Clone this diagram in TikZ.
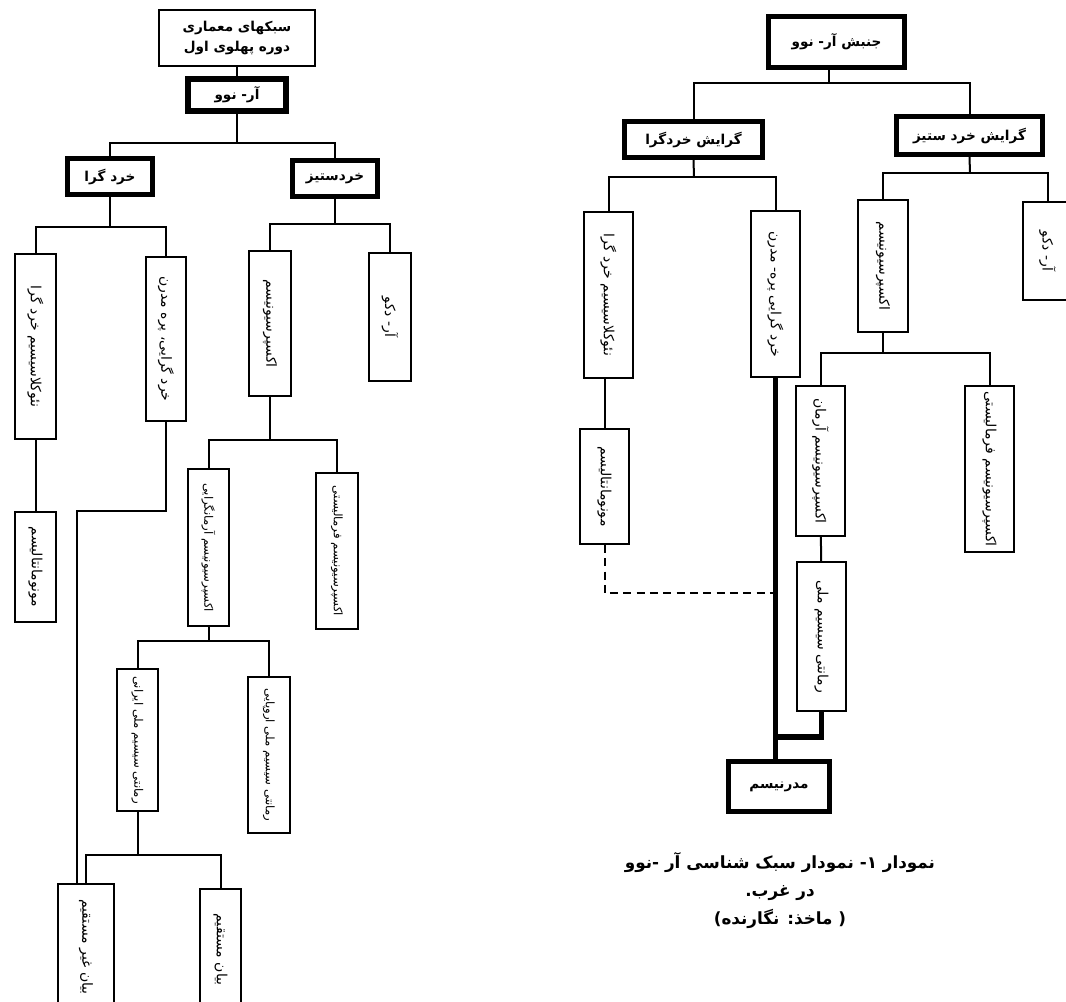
\documentclass[tikz,border=0pt]{standalone}
\usepackage{fontspec}
\usepackage{graphicx}
\TeXXeTstate=1
\newfontfamily\farsi[Script=Arabic]{DejaVu Sans}
\newcommand{\fatext}[1]{\beginR #1\endR}
\newcommand{\vfa}[1]{\rotatebox[origin=c]{-90}{\beginR #1\endR}}

\tikzset{
    thinbox/.style={draw, line width=1.5pt, inner sep=0pt, align=center,
        font=\farsi\bfseries\fontsize{10.2}{15}\selectfont},
    thickbox/.style={thinbox, line width=3.8pt},
    vbox/.style={draw, line width=1.5pt, inner sep=0pt,
        font=\farsi\fontsize{10.5}{12}\selectfont},
    vsmall/.style={vbox, font=\farsi\fontsize{8.8}{11}\selectfont},
    wh/.style 2 args={minimum width=#1*0.75pt, minimum height=#2*0.75pt},
    link/.style={line width=1.5pt},
    boldlink/.style={line width=4pt}
}

\begin{document}
\begin{tikzpicture}[x=0.75pt, y=-0.75pt]
    \useasboundingbox (0,0) rectangle (1066,1001);

    % Left tree
    \node[thinbox, wh={156}{56}] (top) at (237,38)
        {\fatext{سبکهای معماری}\\\fatext{دوره پهلوی اول}};
    \node[thickbox, wh={98}{32}] (arnoo) at (237,95) {\fatext{آر- نوو}};
    \node[thickbox, wh={85}{36}] (khg) at (110,176.5) {\fatext{خرد گرا}};
    \node[thickbox, wh={85}{36}] (khs) at (335,178.5) {\fatext{خردستیز}};

    \node[vbox, wh={41}{185}] (neo) at (35.5,346.5) {\vfa{نئوکلاسیسیم خرد گرا}};
    \node[vbox, wh={40}{164}] (khp) at (166,339) {\vfa{خرد گرایی، پره مدرن}};
    \node[vbox, wh={42}{145}] (exp) at (270,323.5) {\vfa{اکسپرسیونیسم}};
    \node[vbox, wh={42}{128}] (deco) at (390,317) {\vfa{آر- دکو}};

    \node[vbox, wh={41}{110}] (mono) at (35.5,567) {\vfa{مونومانتالیسم}};
    \node[vsmall, wh={41}{157}] (expa) at (208.5,547.5) {\vfa{اکسپرسیونیسم آرمانگرایی}};
    \node[vsmall, wh={42}{156}] (expf) at (337,551) {\vfa{اکسپرسیونیسم فرمالیستی}};

    \node[vsmall, wh={41}{142}] (roi) at (137.5,740) {\vfa{رمانتی سیسیم ملی ایرانی}};
    \node[vsmall, wh={42}{156}] (roe) at (269,755) {\vfa{رمانتی سیسیم ملی اروپایی}};

    \node[vbox, wh={56}{126}] (bgm) at (86,947) {\vfa{بیان غیر مستقیم}};
    \node[vbox, wh={41}{121}] (bm) at (220.5,949.5) {\vfa{بیان مستقیم}};

    \coordinate (b1) at (237,143);
    \coordinate (b2) at (110,227);
    \coordinate (b3) at (331,224);
    \coordinate (b4) at (270,440);
    \coordinate (b5) at (208.5,641);
    \coordinate (b6) at (137.5,855);
    \coordinate (kink) at (77,511);

    \draw[link] (top) -- (arnoo);
    \draw[link] (arnoo.south) -- (b1);
    \draw[link] (khg.north) |- (b1) -| (khs.north);
    \draw[link] (khg.south) -- (b2);
    \draw[link] (neo.north) |- (b2) -| (khp.north);
    \draw[link] (khs.south) -- (khs.south |- b3);
    \draw[link] (exp.north) |- (b3) -| (deco.north);
    \draw[link] (neo) -- (mono);
    \draw[link] (exp.south) -- (b4);
    \draw[link] (expa.north) |- (b4) -| (expf.north);
    \draw[link] (expa.south) -- (b5);
    \draw[link] (roi.north) |- (b5) -| (roe.north);
    \draw[link] (roi.south) -- (b6);
    \draw[link] (bgm.north) |- (b6) -| (bm.north);
    \draw[link] (khp.south) |- (kink) -- (kink |- bgm.north);

    % Right tree
    \node[thickbox, wh={136}{51}] (jon) at (836.5,42) {\fatext{جنبش آر- نوو}};
    \node[thickbox, wh={138}{36}] (gkg) at (693.5,139.5) {\fatext{گرایش خردگرا}};
    \node[thickbox, wh={146}{38}] (gks) at (969.5,135.5) {\fatext{گرایش خرد ستیز}};

    \node[vbox, wh={49}{166}] (rneo) at (608.5,295) {\vfa{نئوکلاسیسیم خرد گرا}};
    \node[vbox, wh={49}{166}] (rkhp) at (775.5,294) {\vfa{خرد گرایی پره- مدرن}};
    \node[vbox, wh={50}{132}] (rexp) at (883,266) {\vfa{اکسپرسیونیسم}};
    \node[vbox, wh={49}{98}] (rdeco) at (1047.5,251) {\vfa{آر- دکو}};

    \node[vbox, wh={49}{115}] (rmono) at (604.5,486.5) {\vfa{مونومانتالیسم}};
    \node[vbox, wh={49}{150}] (rexpa) at (820.5,461) {\vfa{اکسپرسیونیسم آرمان}};
    \node[vbox, wh={49}{166}] (rexpf) at (989.5,469) {\vfa{اکسپرسیونیسم فرمالیستی}};
    \node[vbox, wh={49}{149}] (rmelli) at (821.5,636.5) {\vfa{رمانتی سیسیم ملی}};

    \node[thickbox, wh={101}{50}] (rmod) at (779,786.5) {\fatext{مدرنیسم}};

    \coordinate (c1) at (829,83);
    \coordinate (c2) at (694,177);
    \coordinate (c3) at (970,173);
    \coordinate (c4) at (879,353);
    \coordinate (mj) at (776,737);
    \coordinate (dj) at (776,593);

    \draw[link] (jon.south -| c1) -- (c1);
    \draw[link] (gkg.north) |- (c1) -| (gks.north);
    \draw[link] (gkg.south) -- (c2);
    \draw[link] (rneo.north) |- (c2) -| (rkhp.north);
    \draw[link] (gks.south) -- (c3);
    \draw[link] (rexp.north) |- (c3) -| (rdeco.north);
    \draw[link] (rexp.south) -- (rexp.south |- c4);
    \draw[link] (rexpa.north) |- (c4) -| (rexpf.north);
    \draw[link] (rexpa) -- (rmelli);
    \draw[link] (rmono.north |- rneo.south) -- (rmono.north);
    \draw[link, dashed, dash pattern=on 6pt off 4pt] (rmono.south) |- (dj);
    \draw[boldlink] (rkhp.south) -- (rkhp.south |- rmod.north);
    \draw[boldlink] (rmelli.south) |- (mj);

    % Caption
    \node[font=\farsi\bfseries\fontsize{12.6}{21}\selectfont, align=center] (cap) at (780,891)
        {\fatext{نمودار ۱- نمودار سبک شناسی آر -نوو}\\\fatext{در غرب.}\\\fatext{( ماخذ: نگارنده)}};
\end{tikzpicture}
\end{document}
